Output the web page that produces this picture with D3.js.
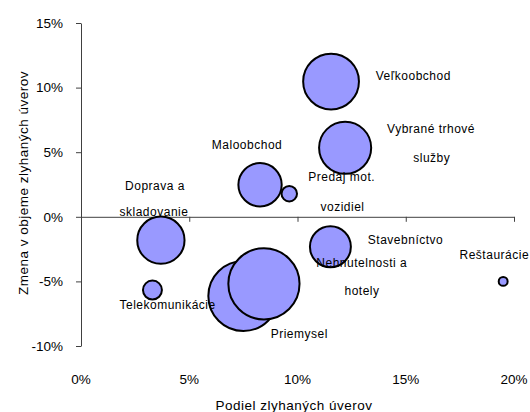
<!DOCTYPE html>
<html>
<head>
<meta charset="utf-8">
<script src="https://cdn.jsdelivr.net/npm/d3@7"></script>
<style>
  body { margin: 0; background: #fff; }
  svg { display: block; font-family: "Liberation Sans", Arial, sans-serif; }
</style>
</head>
<body>
<svg id="chart" width="530" height="412"></svg>
<script>
// ---- data (percent units) ----
const sectors = ["Nehnuteľnosti a hotely", "Priemysel", "Veľkoobchod", "Vybrané trhové služby", "Maloobchod",
                 "Predaj mot. vozidiel", "Doprava a skladovanie", "Telekomunikácie", "Stavebníctvo", "Reštaurácie"];
const nplShare  = [7.5, 8.45, 11.55, 12.2, 8.27, 9.62, 3.69, 3.3, 11.52, 19.5];   // x: Podiel zlyhaných úverov (%)
const nplChange = [-6.13, -5.19, 10.47, 5.34, 2.48, 1.79, -1.81, -5.67, -2.32, -5.0]; // y: Zmena v objeme (%)
const bubbleSize = [12.3, 12.7, 7.8, 6.8, 4.7, 0.6, 5.6, 0.9, 4.2, 0.2];

const xTicks = [0, 5, 10, 15, 20];
const yTicks = [-10, -5, 0, 5, 10, 15];

// label lines and their anchors in data units [x%, y%]
const labelText = [["Veľkoobchod"], ["Vybrané trhové", "služby"], ["Maloobchod"], ["Predaj mot.", "vozidiel"],
                   ["Doprava a", "skladovanie"], ["Stavebníctvo"], ["Nehnutelnosti a", "hotely"],
                   ["Reštaurácie"], ["Telekomunikácie"], ["Priemysel"]];
const labelPos = [[[15.35, 10.57]], [[16.17, 6.5], [16.2, 4.26]], [[7.67, 5.26]], [[12.04, 2.76], [12.08, 0.43]],
                  [[3.42, 2.04], [3.37, 0.06]], [[14.99, -2.09]], [[12.97, -3.9], [12.98, -6.09]],
                  [[19.09, -3.25]], [[4.0, -7.17]], [[10.08, -9.37]]];

// ---- chart ----
const svg = d3.select("#chart");
const x = d3.scaleLinear().domain([0, 20]).range([81, 514]);
const y = d3.scaleLinear().domain([-10, 15]).range([346, 23]);
const r = d3.scaleSqrt().domain([0, 12.7]).range([0, 35.6]);
const axisColor = "#404040";

// y axis
const gy = svg.append("g").attr("transform", `translate(${x(0)},0)`)
  .call(d3.axisLeft(y).tickValues(yTicks).tickSize(5).tickSizeOuter(0).tickFormat(""));
gy.selectAll("path, line").attr("stroke", axisColor);
// x axis at zero
const gx = svg.append("g").attr("transform", `translate(0,${y(0)})`)
  .call(d3.axisBottom(x).tickValues(xTicks).tickSize(5).tickSizeOuter(0).tickFormat(""));
gx.selectAll("path, line").attr("stroke", axisColor);

// y tick labels
svg.append("g").selectAll("text").data(yTicks).join("text")
  .attr("x", 63).attr("y", d => y(d) + 4.7)
  .attr("text-anchor", "end").attr("font-size", 13.5).attr("fill", "#000")
  .text(d => d + "%");
// x tick labels (bottom)
svg.append("g").selectAll("text").data(xTicks).join("text")
  .attr("x", d => x(d)).attr("y", 384)
  .attr("text-anchor", "middle").attr("font-size", 13.5).attr("fill", "#000")
  .text(d => d + "%");

// axis titles
svg.append("text").attr("x", 294).attr("y", 410).attr("text-anchor", "middle")
  .attr("font-size", 13.5).attr("letter-spacing", 0.5).text("Podiel zlyhaných úverov");
svg.append("text").attr("transform", "translate(28,183) rotate(-90)").attr("text-anchor", "middle")
  .attr("font-size", 13.5).attr("letter-spacing", 0.5).text("Zmena v objeme zlyhaných úverov");

// bubbles
const idx = d3.range(sectors.length);
svg.append("g").selectAll("circle").data(idx).join("circle")
  .attr("cx", i => x(nplShare[i])).attr("cy", i => y(nplChange[i])).attr("r", i => r(bubbleSize[i]))
  .attr("fill", "#9999FF").attr("stroke", "#000").attr("stroke-width", 2);

// labels
const lab = svg.append("g");
labelText.forEach((lines, i) => {
  lines.forEach((t, j) => {
    const p = labelPos[i][j];
    lab.append("text").attr("x", x(p[0])).attr("y", y(p[1]))
      .attr("text-anchor", "middle").attr("font-size", 12).attr("letter-spacing", 0.5)
      .attr("fill", "#000").text(t);
  });
});
</script>
</body>
</html>
